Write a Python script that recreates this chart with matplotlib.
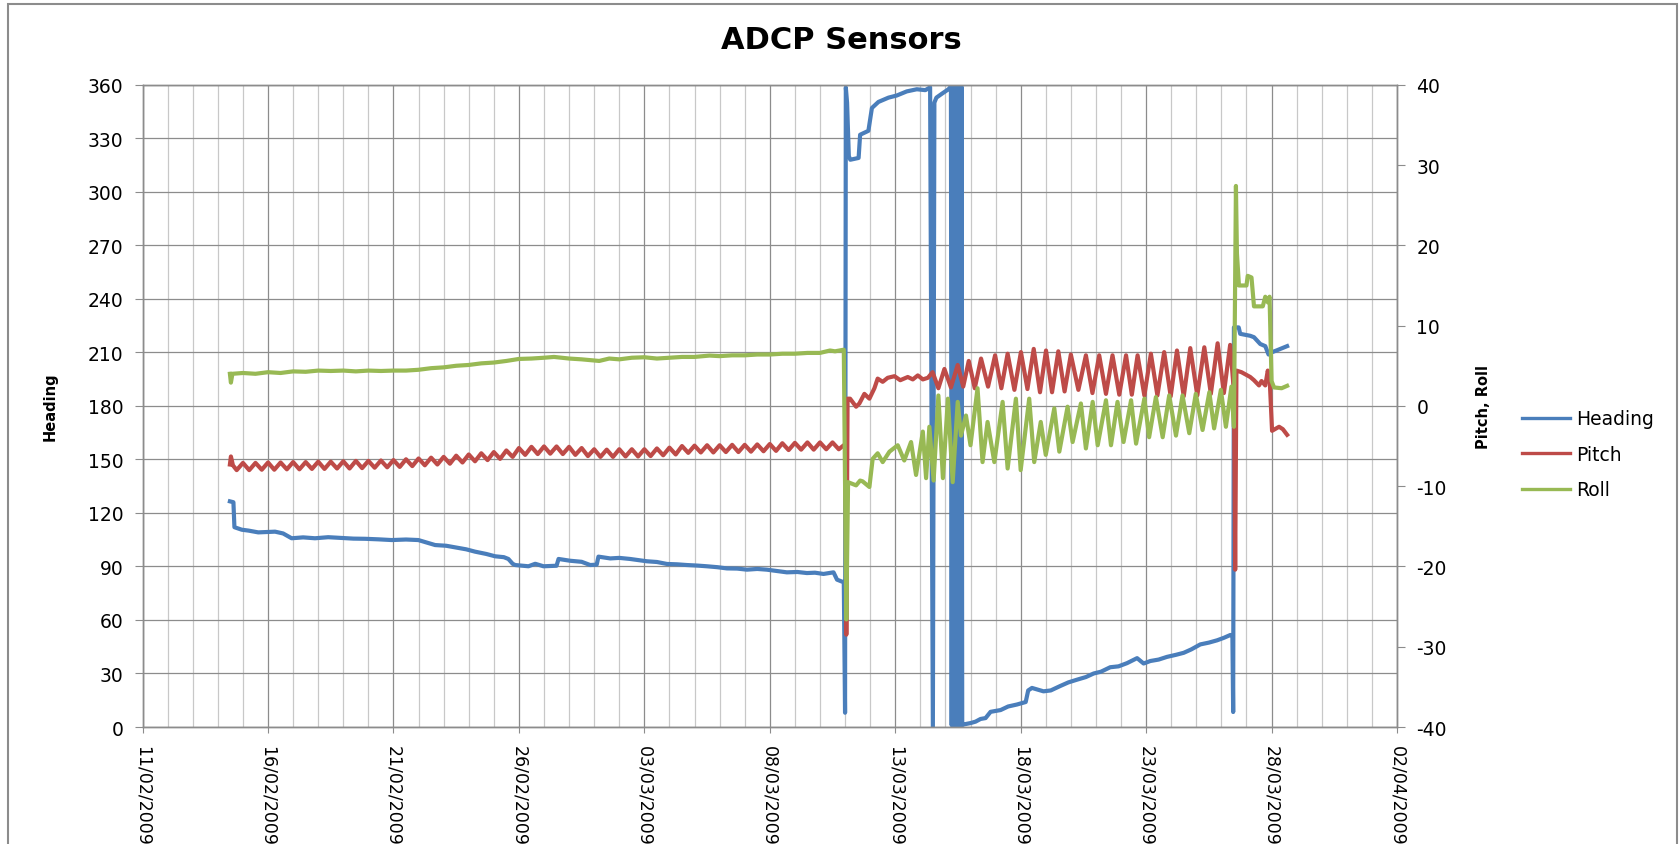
import numpy as np
import pandas as pd
import matplotlib
matplotlib.use("Agg")
import matplotlib.pyplot as plt
import matplotlib.dates as mdates
from matplotlib.patches import Rectangle

plt.rcParams["axes.unicode_minus"] = False

START = pd.Timestamp("2009-02-11")

# ---- data (x = days after 11/02/2009) ----
heading_day = [
    3.48, 3.62, 3.66, 3.95, 4.22, 4.61, 5.28, 5.6, 5.94, 6.4, 6.87, 7.4, 7.94, 8.4,
    8.87, 9.4, 9.93, 10.5, 10.99, 11.3, 11.66, 12.1, 12.46, 12.9, 13.25, 13.7, 14.05,
    14.4, 14.58, 14.75, 14.85, 15.38, 15.65, 15.98, 16.5, 16.58, 17.04, 17.5, 17.84,
    18.1, 18.17, 18.64, 19.0, 19.43, 20.1, 20.5, 20.9, 21.3, 21.69, 22.1, 22.49, 22.9,
    23.29, 23.7, 24.09, 24.5, 24.88, 25.3, 25.68, 26.1, 26.48, 26.8, 27.14, 27.54,
    27.68, 27.95, 28.0, 28.03, 28.08, 28.15, 28.21, 28.54, 28.6, 28.93, 29.07, 29.33,
    29.73, 30.06, 30.46, 30.86, 31.2, 31.39, 31.5, 31.56, 31.64, 31.86, 32.12,
    32.22, 32.25, 32.28, 32.31, 32.34, 32.37, 32.40, 32.43, 32.46, 32.49, 32.52,
    32.55, 32.58, 32.61, 32.64, 32.67,
    32.75, 33.0, 33.2, 33.4, 33.6, 33.8, 34.2, 34.5, 34.85, 35.2, 35.3, 35.45, 35.91,
    36.2, 36.58, 36.9, 37.24, 37.6, 37.91, 38.2, 38.57, 38.9, 39.24, 39.64, 39.9,
    40.17, 40.5, 40.83, 41.2, 41.5, 41.8, 42.16, 42.5, 42.83, 43.1, 43.36, 43.44,
    43.47, 43.5, 43.69, 43.75, 44.15, 44.3, 44.55, 44.75, 44.88, 45.0, 45.22, 45.62,
]
heading_deg = [
    126.5, 126.0, 112.0, 110.6, 110.1, 109.1, 109.5, 108.5, 105.8, 106.3, 105.8, 106.4,
    106.0, 105.6, 105.5, 105.2, 104.8, 105.1, 104.8, 103.5, 102.0, 101.6, 100.7, 99.6,
    98.3, 97.0, 95.7, 95.2, 94.2, 91.5, 90.8, 90.1, 91.5, 90.1, 90.4, 94.2, 93.2, 92.6,
    90.8, 91.0, 95.5, 94.5, 94.8, 94.2, 92.9, 92.5, 91.4, 91.2, 90.8, 90.5, 90.1, 89.6,
    88.9, 88.8, 88.2, 88.6, 88.2, 87.4, 86.7, 86.9, 86.3, 86.5, 85.8, 86.7,
    82.6, 81.1, 8.0, 358.5, 350.0, 320.0, 318.0, 319.0, 332.0, 334.2, 347.0, 350.4,
    352.8, 354.0, 356.3, 357.5, 357.0, 358.6, 0.0, 350.0, 352.8, 355.0, 357.5,
    359, 1, 359, 1, 359, 1, 359, 1, 359, 1, 359,
    1, 359, 1, 359, 1,
    1.5, 2.2, 3.0, 4.5, 5.0, 8.5, 9.5, 11.5, 12.6, 14.0, 20.5, 21.9, 20.0,
    20.5, 23.0, 25.0, 26.5, 28.0, 30.0, 31.0, 33.5, 34.0, 35.8, 38.6, 35.6,
    37.0, 37.8, 39.3, 40.5, 41.6, 43.5, 46.3, 47.3, 48.6, 50.0, 51.6, 50.5,
    8.4, 224.0, 224.0, 220.4, 219.3, 218.5, 214.7, 213.5, 208.8, 210.0, 211.2, 213.5,
]

# pitch: quarter-day samples of the small tidal wiggle before the mooring moved
pitch_wiggle_day = np.arange(3.75, 27.8, 0.25)
pitch_wiggle = [
    -8.0,
    -7.1, -8.0, -7.1, -7.95,
    -7.05, -7.95, -7.05, -7.9,
    -7.0, -7.9, -7.0, -7.85,
    -6.95, -7.85, -6.95, -7.8,
    -6.9, -7.8, -6.85, -7.75,
    -6.85, -7.7, -6.8, -7.65,
    -6.75, -7.6, -6.65, -7.5,
    -6.55, -7.4, -6.45, -7.3,
    -6.35, -7.2, -6.2, -7.05,
    -6.05, -6.9, -5.9, -6.75,
    -5.75, -6.6, -5.55, -6.35,
    -5.25, -6.1, -5.1, -6.0,
    -5.05, -5.95, -5.05, -6.0,
    -5.1, -6.1, -5.25, -6.25,
    -5.4, -6.35, -5.45, -6.35,
    -5.4, -6.3, -5.4, -6.3,
    -5.4, -6.25, -5.3, -6.15,
    -5.2, -6.05, -5.0, -5.85,
    -4.95, -5.8, -4.9, -5.8,
    -4.9, -5.75, -4.85, -5.75,
    -4.85, -5.7, -4.8, -5.65,
    -4.75, -5.6, -4.65, -5.5,
    -4.6, -5.45, -4.55, -5.45,
    -4.55, -5.4, -4.55, -5.4,
]
pitch_head_day = [3.48, 3.52, 3.6]
pitch_head = [-7.3, -6.3, -7.4]
pitch_tail_day = [
    27.95, 28.02, 28.05, 28.1, 28.2, 28.44, 28.57, 28.77, 28.97, 29.17, 29.3, 29.5,
    29.7, 29.97, 30.2, 30.5, 30.7, 30.9, 31.1, 31.3,
    31.49, 31.72, 31.96, 32.22, 32.49, 32.71, 32.93, 33.17, 33.42, 33.7, 33.98,
    34.23, 34.48, 34.75, 35.01, 35.27, 35.52, 35.77, 36.01, 36.25, 36.5, 36.75,
    37.0, 37.3, 37.6, 37.86, 38.13, 38.4, 38.66, 38.93, 39.2, 39.43, 39.66, 39.93,
    40.19, 40.45, 40.72, 40.98, 41.23, 41.5, 41.76, 42.04, 42.32, 42.58, 42.85,
    43.1, 43.35, 43.5, 43.55, 43.6, 43.8, 44.15, 44.3, 44.5, 44.6, 44.75, 44.85,
    44.93, 45.02, 45.3, 45.45, 45.62,
]
pitch_tail = [
    -4.9, -5.0, -28.5, 0.9, 0.9, -0.1, 0.3, 1.5, 0.9, 2.2, 3.4, 3.0,
    3.5, 3.7, 3.2, 3.6, 3.3, 3.8, 3.3, 3.5,
    4.2, 2.2, 4.6, 2.3, 5.1, 2.4, 5.6, 2.2, 5.9, 2.4, 6.3,
    2.2, 6.5, 2.0, 6.7, 2.1, 7.1, 1.7, 6.9, 1.7, 6.8, 1.8,
    6.4, 2.0, 6.3, 1.6, 6.3, 1.5, 6.3, 1.4, 6.3, 1.4, 6.3, 1.3,
    6.5, 1.3, 6.7, 1.2, 6.9, 1.2, 7.2, 1.3, 7.3, 1.5, 7.8,
    1.6, 7.6, 1.8, -20.4, 4.4, 4.2, 3.6, 3.2, 2.55, 3.1, 2.55, 4.4,
    3.0, -3.1, -2.6, -2.9, -3.6,
]

roll_day = [
    3.48, 3.52, 3.58, 4.0, 4.5, 5.0, 5.5, 6.0, 6.5, 7.0, 7.5, 8.0, 8.5, 9.0, 9.5,
    10.0, 10.5, 11.0, 11.5, 12.0, 12.5, 13.0, 13.5, 14.0, 14.5, 15.0, 15.5, 16.0,
    16.4, 17.0, 17.5, 18.2, 18.6, 19.0, 19.5, 20.0, 20.5, 21.0, 21.5, 22.0, 22.6,
    23.0, 23.5, 24.0, 24.5, 25.0, 25.5, 26.0, 26.5, 27.0, 27.4, 27.6, 27.95,
    28.05, 28.12, 28.44, 28.6, 28.7, 28.97, 29.1, 29.3, 29.5, 29.77, 30.1, 30.36,
    30.63, 30.83, 31.1, 31.23, 31.36, 31.53, 31.72, 31.9, 32.1, 32.29, 32.49,
    32.62, 32.82, 33.0, 33.28, 33.48, 33.68, 33.95, 34.28, 34.48, 34.81, 35.0,
    35.34, 35.54, 35.8, 36.0, 36.34, 36.54, 36.87, 37.07, 37.4, 37.6, 37.87, 38.07,
    38.4, 38.6, 38.86, 39.1, 39.4, 39.6, 39.93, 40.12, 40.39, 40.66, 40.92, 41.19,
    41.45, 41.72, 41.98, 42.25, 42.52, 42.71, 42.98, 43.18, 43.4, 43.5,
    43.58, 43.62, 43.7, 44.0, 44.05, 44.2, 44.3, 44.65, 44.75, 44.85, 44.92, 45.0,
    45.1, 45.4, 45.62,
]
roll_deg = [
    4.0, 2.9, 4.0, 4.1, 4.0, 4.2, 4.1, 4.3, 4.25, 4.4, 4.35, 4.4, 4.3, 4.4, 4.35,
    4.4, 4.4, 4.5, 4.7, 4.8, 5.0, 5.1, 5.3, 5.4, 5.6, 5.85, 5.9, 6.0,
    6.1, 5.9, 5.8, 5.6, 5.9, 5.8, 6.0, 6.06, 5.9, 6.0, 6.1, 6.1, 6.27,
    6.2, 6.3, 6.3, 6.4, 6.4, 6.5, 6.5, 6.6, 6.6, 6.9, 6.8, 7.0,
    -26.6, -9.5, -9.9, -9.3, -9.4, -10.1, -6.6, -5.9, -7.0, -5.7, -4.9, -6.8,
    -4.5, -8.6, -3.2, -9.0, -2.6, -9.3, 1.3, -9.0, 0.9, -9.5, 0.5,
    -3.7, -1.2, -4.9, 2.2, -7.0, -2.0, -7.0, 0.5, -7.8, 0.9, -8.0,
    0.9, -7.0, -2.0, -6.1, -0.3, -5.7, -0.1, -4.5, 0.3, -5.3, 0.5, -4.9,
    0.7, -4.9, 0.5, -4.5, 0.7, -4.7, 0.9, -3.9, 1.1, -3.9, 1.3, -3.7,
    1.3, -3.4, 1.5, -3.0, 1.7, -2.8, 2.0, -2.6, 2.4, -2.6,
    27.4, 19.0, 15.0, 15.0, 16.2, 16.0, 12.4, 12.4, 13.6, 12.9, 13.6, 3.1,
    2.3, 2.2, 2.5,
]

pitch_day = np.concatenate([pitch_head_day, pitch_wiggle_day, pitch_tail_day])
pitch_deg = np.concatenate([pitch_head, pitch_wiggle, pitch_tail])


def to_dates(days):
    return START + pd.to_timedelta(np.asarray(days, dtype=float), unit="D")


BLUE, RED, GREEN = "#4A7EBB", "#BE4B48", "#98B954"
GRID_DARK, GRID_LIGHT = "#8C8C8C", "#C8C8C8"

fig = plt.figure(figsize=(16.81, 8.45), dpi=100)
ax = fig.add_axes([0.08483, 0.13846, 0.74622, 0.76])
ax2 = ax.twinx()

lw = 3.0
l1, = ax.plot(to_dates(heading_day), heading_deg, color=BLUE, lw=lw, label="Heading")
l2, = ax2.plot(to_dates(pitch_day), pitch_deg, color=RED, lw=lw, label="Pitch")
l3, = ax2.plot(to_dates(roll_day), roll_deg, color=GREEN, lw=lw, label="Roll")

# axes ranges and ticks
ax.set_xlim(START, START + pd.Timedelta(days=50))
ax.set_ylim(0, 360)
ax.set_yticks(np.arange(0, 361, 30))
ax2.set_ylim(-40, 40)
ax2.set_yticks(np.arange(-40, 41, 10))

ax.set_xticks(pd.date_range(START, periods=11, freq="5D"))
ax.set_xticks(pd.date_range(START, periods=51, freq="D"), minor=True)
ax.xaxis.set_major_formatter(mdates.DateFormatter("%d/%m/%Y"))
plt.setp(ax.get_xticklabels(), rotation=-90, ha="center", va="top")

ax.grid(True, which="major", color=GRID_DARK, lw=0.9)
ax.grid(True, which="minor", axis="x", color=GRID_LIGHT, lw=0.9)
ax.set_axisbelow(True)

ax.tick_params(axis="y", direction="out", length=6, color=GRID_DARK, labelsize=13.5, pad=8)
ax.tick_params(axis="x", which="major", direction="out", length=4, color=GRID_DARK,
               labelsize=12.5, pad=9)
ax.tick_params(axis="x", which="minor", length=0)
ax2.tick_params(axis="y", direction="out", length=6, color=GRID_DARK, labelsize=13.5, pad=8)

for a in (ax, ax2):
    for sp in a.spines.values():
        sp.set_color(GRID_DARK)
        sp.set_linewidth(1.0)

# labels / title
fig.text(0.5003, 0.952, "ADCP Sensors", ha="center", va="center",
         fontsize=22, fontweight="bold")
fig.text(0.0297, 0.5183, "Heading", rotation=90, ha="center", va="center",
         fontsize=10.5, fontweight="bold")
fig.text(0.8828, 0.5183, "Pitch, Roll", rotation=90, ha="center", va="center",
         fontsize=10.5, fontweight="bold")

leg = fig.legend(handles=[l1, l2, l3], loc="center left",
                 bbox_to_anchor=(0.9052, 0.4612), bbox_transform=fig.transFigure,
                 frameon=False, fontsize=13.5, handlelength=2.56, handletextpad=0.32,
                 labelspacing=0.87, borderpad=0, borderaxespad=0)
for h in leg.get_lines():
    h.set_linewidth(2.4)

# outer chart frame
fig.add_artist(Rectangle((8.4 / 1681, -0.05), (1676.7 - 8.4) / 1681, 1.05 - 4.6 / 845,
                         transform=fig.transFigure, fill=False,
                         edgecolor="#8C8C8C", lw=1.5))

fig.savefig("out.png", dpi=100)
print("Saved out.png")
